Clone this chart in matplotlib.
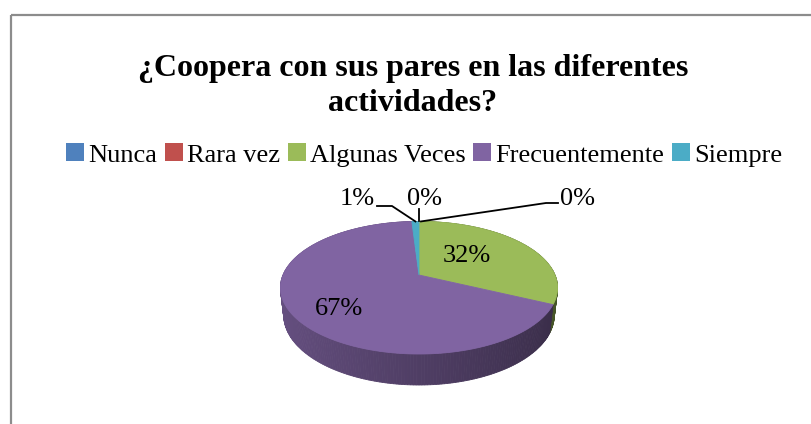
import matplotlib
matplotlib.use('Agg')
import matplotlib.pyplot as plt
from matplotlib.patches import Patch, Polygon, Rectangle
import numpy as np

# Data
categories = ['Nunca', 'Rara vez', 'Algunas Veces', 'Frecuentemente', 'Siempre']
values = [0, 0, 32, 67, 1]
labels = ['0%', '0%', '32%', '67%', '1%']
colors = ['#4F81BD', '#C0504D', '#9BBB59', '#8064A2', '#4BACC6']
title = '¿Coopera con sus pares en las diferentes\nactividades?'

W, H_PX = 812, 424
plt.rcParams['font.family'] = ['Liberation Serif', 'DejaVu Serif']

fig = plt.figure(figsize=(W / 100, H_PX / 100), dpi=100)
ax = fig.add_axes([0, 0, 1, 1])
ax.set_xlim(0, W)
ax.set_ylim(H_PX, 0)
ax.axis('off')

# chart border
ax.add_patch(Rectangle((11, 15), 900, 500, fill=False, edgecolor='#8c8c8c', linewidth=1.6))

# perspective 3D pie geometry
cx, cy, scale = 419, 275, 136
phi = np.radians(28)
dist = 4.6
depth = 0.23


def project(t, h=0.0, r=1.0):
    x = r * np.cos(t)
    yd = r * np.sin(t)
    yv = yd * np.sin(phi) + h * np.cos(phi)
    zv = yd * np.cos(phi) - h * np.sin(phi)
    f = dist / (dist + zv)
    return cx + scale * x * f, cy - scale * yv * f


total = float(sum(values))
fracs = [v / total for v in values]
starts = []
ends = []
acc = 0.0
for fr in fracs:
    starts.append(np.pi / 2 - 2 * np.pi * acc)
    acc += fr
    ends.append(np.pi / 2 - 2 * np.pi * acc)


def slice_at(t):
    # which slice holds angle t (clockwise from top)
    pos = ((np.pi / 2 - t) % (2 * np.pi)) / (2 * np.pi)
    c = 0.0
    for i, fr in enumerate(fracs):
        c += fr
        if pos < c and fr > 0:
            return i
    return len(fracs) - 1


# side wall strips, back to front
n = 360
ts = np.linspace(-np.pi, np.pi, n + 1)
strips = []
for k in range(n):
    t1, t2 = ts[k], ts[k + 1]
    tm = 0.5 * (t1 + t2)
    strips.append((np.sin(tm), t1, t2, tm))
strips.sort(key=lambda s: -s[0])
for zdepth, t1, t2, tm in strips:
    base = np.array(matplotlib.colors.to_rgb(colors[slice_at(tm)]))
    shade = 0.62 - 0.18 * np.cos(tm)
    col = np.clip(base * shade, 0, 1)
    pts = [project(t1, 0), project(t2, 0), project(t2, -depth), project(t1, -depth)]
    ax.add_patch(Polygon(pts, closed=True, facecolor=col, edgecolor=col, linewidth=0.6))

# top faces
for i, v in enumerate(values):
    if v == 0:
        continue
    arc = np.linspace(starts[i], ends[i], max(int(abs(starts[i] - ends[i]) * 60), 4))
    pts = [(cx, cy)] + [project(t, 0) for t in arc]
    ax.add_patch(Polygon(pts, closed=True, facecolor=colors[i], edgecolor=colors[i], linewidth=0.6))

# data labels
fs = 19
ax.text(467, 256, labels[2], fontsize=fs, ha='center', va='center')
ax.text(339, 309, labels[3], fontsize=fs, ha='center', va='center')

# small slices with leader lines
ax.text(357, 199, labels[4], fontsize=fs, ha='center', va='center')
x1, y1 = project((starts[4] + ends[4]) / 2, 0)
ax.plot([377, 392, x1], [206, 206, y1], color='black', linewidth=1.3)

ax.text(425, 199, labels[0], fontsize=fs, ha='center', va='center')
x0, y0 = project(starts[0], 0)
ax.plot([x0, x0], [209, y0], color='black', linewidth=1.3)

ax.text(578, 199, labels[1], fontsize=fs, ha='center', va='center')
ax.plot([558, 546, x0 + 2], [203, 203, y0], color='black', linewidth=1.3)

# title
fig.text(413 / W, 1 - 86 / H_PX, title, fontsize=23, fontweight='bold',
         ha='center', va='center', linespacing=1.24)

# legend
handles = [Patch(facecolor=c, edgecolor='none', label=lab) for c, lab in zip(colors, categories)]
fig.legend(handles=handles, loc='center', bbox_to_anchor=(424 / W, 1 - 155 / H_PX), ncol=5,
           frameon=False, fontsize=19, handlelength=0.68, handleheight=0.68,
           handletextpad=0.15, columnspacing=0.3, borderpad=0)

fig.savefig('out.png', dpi=100)
plt.close(fig)
